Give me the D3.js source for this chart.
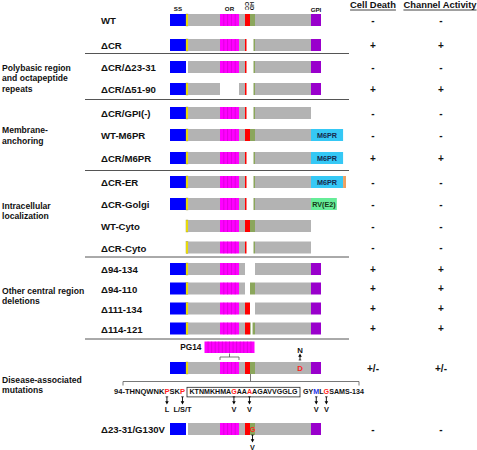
<!DOCTYPE html>
<html><head><meta charset="utf-8">
<script src="https://cdn.jsdelivr.net/npm/d3@7"></script>
<style>
body{margin:0;background:#fff}
svg{display:block}
text{font-family:Arial,"Liberation Sans",Helvetica,sans-serif;font-weight:bold}
</style>
</head><body>
<svg id="c" width="477" height="450"></svg>
<script>
// ---------------- DATA ----------------
const constructs = ["WT","ΔCR","ΔCR/Δ23-31","ΔCR/Δ51-90","ΔCR/GPI(-)","WT-M6PR","ΔCR/M6PR","ΔCR-ER","ΔCR-Golgi","WT-Cyto","ΔCR-Cyto","Δ94-134","Δ94-110","Δ111-134","Δ114-121","PG14","Δ23-31/G130V"];
const cellDeath       = ["-","+","-","+","-","-","+","-","-","-","-","+","+","+","+","+/-","-"];
const channelActivity = ["-","+","-","+","-","-","+","-","-","-","-","+","+","+","+","+/-","-"];

// PrP domains (residue ranges, end exclusive)
const domainNames = ["SS","PB","N","OR","L","CC","HD","C","GPI"];
const domainStart = [1, 23, 32, 51, 91, 94, 111, 135, 231];
const domainEnd   = [23, 32, 51, 91, 94, 111, 135, 231, 255];
const headerDomains = ["SS","OR","CC","HD","GPI"];

// deleted residue ranges (inclusive) per construct
const deletions = [
  [], [[105,125]], [[105,125],[23,31]], [[105,125],[51,90]], [[105,125],[231,254]],
  [[231,254]], [[105,125],[231,254]], [[105,125],[231,254]], [[105,125],[231,254]],
  [[1,22],[231,254]], [[1,22],[105,125],[231,254]],
  [[94,134]], [[94,110]], [[111,134]], [[114,121]], [], [[23,31]]
];
// C-terminal fusion tags
const tagNames   = ["M6PR","RV(E2)","KDEL"];
const tagLengths = [77, 62, 7];
const tagLabels  = ["M6PR","RV(E2)",""];
const constructTags = [[],[],[],[],[],["M6PR"],["M6PR"],["M6PR","KDEL"],["RV(E2)"],[],[],[],[],[],[],[],[]];

const groupLabels = [["Polybasic region","and octapeptide","repeats"],["Membrane-","anchoring"],["Intracellular","localization"],["Other central region","deletions"],["Disease-associated","mutations"]];
const groupEndRows = [1, 3, 6, 10, 14];   // separators follow these rows

const wtRepeats = 5, pg14Repeats = 14;
const pointMutation = {residue:177, from:"D", to:"N"};
const g130v = {from:"G", to:"V"};

// sequence 94-134
const seqPieces = ["94-THNQWNKPSKP","KTNMKHMAGAAAAGAVVGGLG","GYMLGSAMS-134"];
const seqRed  = [[10,13],[8,11],[4]];
const seqBlue = [[],[],[2]];
const seqMutations = [[0,10,"L"],[0,13,"L/S/T"],[1,8,"V"],[1,11,"V"],[2,2,"V"],[2,4,"V"]];

// ---------------- LAYOUT ----------------
const svg = d3.select("#c");
const x = d3.scaleLinear()
  .domain([1, 23, 32, 51, 91, 94, 105, 111, 126, 135, 177, 231, 255])
  .range([170,186,188,220,239,245,246.5,250,253.5,255,300,311,321]);
const rowY = d3.scaleOrdinal().domain(constructs)
  .range([20,45,67,89,113,135,158,182,204,226,247.5,269,288.5,308.5,328.5,368,429]);
const sepY = [53.5, 99.5, 170.5, 257, 339];
const groupY = [78, 135.5, 211, 296, 385];
const bh = 12;
const colors = {SS:"#0000ff",PB:"#ffee00",N:"#b3b3b3",OR:"#ff00ff",L:"#b3b3b3",CC:"#ff0000",HD:"#8ba65c",C:"#b3b3b3",GPI:"#9900cc",
  "M6PR":"#35c8f5","RV(E2)":"#66ec98","KDEL":"#eea060"};
const red = "#f22", ink = "#111";

function pieces(s, e, dels){
  let segs = [[s,e]];
  dels.forEach(([a,b]) => {
    const A=a, B=b+1;
    segs = segs.flatMap(([p,q]) => {
      if (B<=p || A>=q) return [[p,q]];
      const out=[]; if (A>p) out.push([p,A]); if (B<q) out.push([B,q]); return out;
    });
  });
  return segs;
}
function arrow(xp, y1, y2){
  const dir = y2>y1 ? 1 : -1;
  svg.append("line").attr("x1",xp).attr("x2",xp).attr("y1",y1).attr("y2",y2-dir*2.5)
    .attr("stroke","#000").attr("stroke-width",0.9);
  svg.append("line").attr("x1",xp-1.3).attr("x2",xp+1.3).attr("y1",y1).attr("y2",y1)
    .attr("stroke","#000").attr("stroke-width",0.7);
  svg.append("path").attr("d",`M${xp-1.8},${y2-dir*3.2}L${xp+1.8},${y2-dir*3.2}L${xp},${y2}Z`).attr("fill","#000");
}

// header
headerDomains.forEach(d => {
  const j = domainNames.indexOf(d);
  const cx = (x(domainStart[j]) + x(domainEnd[j]))/2;
  if (d==="CC" || d==="HD") {
    svg.append("text").attr("transform",`translate(${cx},6) rotate(90)`).attr("text-anchor","middle")
      .attr("dy","0.35em").attr("font-size",5.8).attr("fill",ink).text(d);
  } else {
    svg.append("text").attr("x",cx).attr("y", d==="GPI"?12:11).attr("text-anchor","middle")
      .attr("font-size",6.2).attr("fill",ink).text(d);
  }
});
const colX = [373, 441];
[["Cell Death",373],["Channel Activity",440]].forEach(([t,cx]) => {
  const tx = svg.append("text").attr("x",cx).attr("y",8).attr("text-anchor","middle").attr("font-size",9.4).attr("fill",ink).text(t);
  const w = tx.node().getComputedTextLength();
  svg.append("line").attr("x1",cx-w/2).attr("x2",cx+w/2).attr("y1",10).attr("y2",10).attr("stroke",ink).attr("stroke-width",0.8);
});

// separators
sepY.forEach(y => svg.append("line").attr("x1",85).attr("x2",349).attr("y1",y).attr("y2",y)
  .attr("stroke","#555").attr("stroke-width",1));

// group labels
groupLabels.forEach((lines,k) => {
  const n = lines.length;
  lines.forEach((l,li) => svg.append("text").attr("x",2)
    .attr("y", groupY[k] + (li-(n-1)/2)*10.6 + 3.1).attr("font-size",8.6).attr("fill",ink).text(l));
});

// rows
constructs.forEach((name,i) => {
  const cy = rowY(name);
  domainNames.forEach((d,j) => {
    pieces(domainStart[j], domainEnd[j], deletions[i]).forEach(([a,b]) => {
      svg.append("rect").attr("x",x(a)).attr("y",cy-bh/2).attr("width",x(b)-x(a)).attr("height",bh).attr("fill",colors[d]);
      if (d==="PB") svg.append("rect").attr("x",x(a)).attr("y",cy-bh/2).attr("width",x(b)-x(a)).attr("height",bh)
        .attr("fill","none").attr("stroke","#8a8a30").attr("stroke-width",0.4);
      if (d==="OR") {
        const rw = (x(domainEnd[j])-x(domainStart[j]))/wtRepeats;
        for (let k=1;k<wtRepeats;k++){
          const lx = x(domainStart[j]) + k*rw;
          svg.append("line").attr("x1",lx).attr("x2",lx).attr("y1",cy-bh/2).attr("y2",cy+bh/2).attr("stroke","#c800c8").attr("stroke-width",0.6);
        }
      }
    });
  });
  let t = 231;
  constructTags[i].forEach(tag => {
    const k = tagNames.indexOf(tag);
    const x0 = x(t), x1 = x(t+tagLengths[k]);
    svg.append("rect").attr("x",x0).attr("y",cy-bh/2).attr("width",x1-x0).attr("height",bh).attr("fill",colors[tag]);
    if (tagLabels[k]) svg.append("text").attr("x",(x0+x1)/2).attr("y",cy+2.6).attr("text-anchor","middle")
      .attr("font-size",7.2).attr("fill", tag==="M6PR"?"#16284d":"#163a16").text(tagLabels[k]);
    t += tagLengths[k];
  });
  if (name !== "PG14")
    svg.append("text").attr("x",101).attr("y",cy+4.4).attr("font-size",9.6).attr("fill",ink).text(name);
  [cellDeath[i], channelActivity[i]].forEach((v,c) =>
    svg.append("text").attr("x",colX[c]).attr("y",cy+3.6).attr("text-anchor","middle").attr("font-size",10).attr("fill",ink).text(v));
});

// PG14 inset
(function(){
  const j = domainNames.indexOf("OR");
  const orA = x(domainStart[j]), orB = x(domainEnd[j]);
  const rw = (orB-orA)/wtRepeats*0.94;
  const w = rw*pg14Repeats, cx = (orA+orB)/2, y0 = 341.5, h = 11.5;
  svg.append("rect").attr("x",cx-w/2).attr("y",y0).attr("width",w).attr("height",h).attr("fill",colors.OR);
  for (let k=1;k<pg14Repeats;k++){
    const lx = cx-w/2+k*rw;
    svg.append("line").attr("x1",lx).attr("x2",lx).attr("y1",y0).attr("y2",y0+h).attr("stroke","#c800c8").attr("stroke-width",0.6);
  }
  svg.append("text").attr("x",cx-w/2-3).attr("y",350).attr("text-anchor","end").attr("font-size",8.3).attr("fill",ink).text("PG14");
  const by = 357;
  svg.append("path").attr("d",`M${orA},${by+3}V${by}H${orB}V${by+3}M${cx},${by}V${by-3.5}`)
    .attr("fill","none").attr("stroke","#555").attr("stroke-width",0.8);
  // D177N
  const cy = rowY("PG14");
  const dx = x(pointMutation.residue);
  svg.append("text").attr("x",dx).attr("y",cy+2.8).attr("text-anchor","middle").attr("font-size",7.8).attr("fill",red).text(pointMutation.from);
  arrow(dx, 360, 353.5);
  svg.append("text").attr("x",dx).attr("y",352.5).attr("text-anchor","middle").attr("font-size",7.8).attr("fill",ink).text(pointMutation.to);
  // bracket to sequence
  const hx = x(111) + 0.5;
  svg.append("path").attr("d",`M${hx},${cy+bh/2}V381.5M123,385.5V381.5H359V385.5`)
    .attr("fill","none").attr("stroke","#555").attr("stroke-width",0.8);
})();

// sequence
const seqX = [[114,185],[189.5,297.5],[303,364]];
const seqY = 394.2;
const seqNodes = seqPieces.map((s,k) => {
  const t = svg.append("text").attr("x",seqX[k][0]).attr("y",seqY).attr("font-size",7.3)
    .attr("textLength",seqX[k][1]-seqX[k][0]).attr("lengthAdjust","spacingAndGlyphs");
  s.split("").forEach((c,ci) => t.append("tspan").text(c)
    .attr("fill", seqRed[k].includes(ci) ? red : seqBlue[k].includes(ci) ? "#1a32e6" : ink));
  return t.node();
});
svg.append("rect").attr("x",seqX[1][0]-2.5).attr("y",387.3).attr("width",seqX[1][1]-seqX[1][0]+5).attr("height",9.6)
  .attr("fill","none").attr("stroke","#222").attr("stroke-width",0.8);
seqMutations.forEach(([k,ci,to]) => {
  const r = seqNodes[k].getExtentOfChar(ci);
  const cx = r.x + r.width/2;
  arrow(cx, 396.8, 404.5);
  svg.append("text").attr("x",cx).attr("y",411.7).attr("text-anchor","middle").attr("font-size",7.4).attr("fill",ink).text(to);
});

// G130V
(function(){
  const cy = rowY("Δ23-31/G130V");
  const j = domainNames.indexOf("HD");
  const gx = (x(domainStart[j])+x(domainEnd[j]))/2;
  svg.append("text").attr("x",gx).attr("y",cy+2.6).attr("text-anchor","middle").attr("font-size",7.2).attr("fill",red).text(g130v.from);
  arrow(gx, cy+bh/2, 442.5);
  svg.append("text").attr("x",gx).attr("y",449.5).attr("text-anchor","middle").attr("font-size",7.2).attr("fill",ink).text(g130v.to);
})();
</script>
</body></html>
